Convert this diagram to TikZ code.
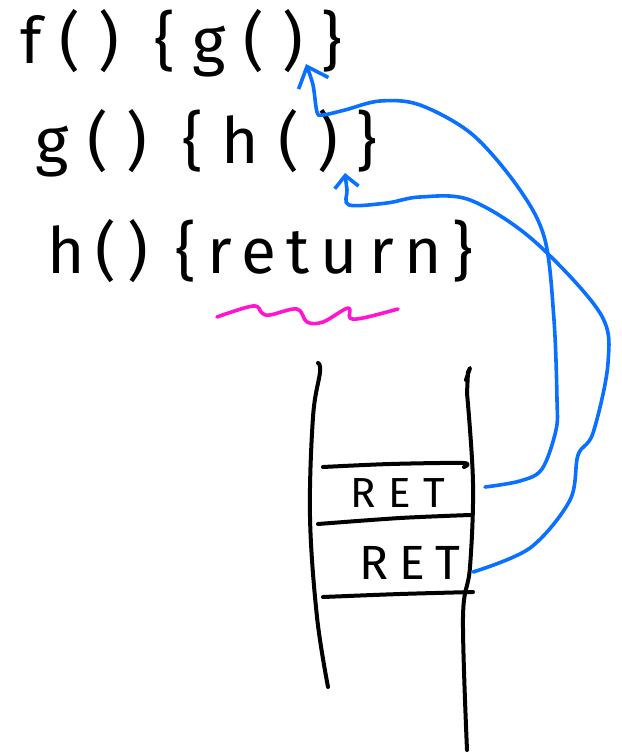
\documentclass[tikz,border=0pt]{standalone}
\usepackage{fontspec}
\setmainfont{Fira Sans}
\usetikzlibrary{arrows.meta}
\definecolor{penblue}{RGB}{10,112,255}
\definecolor{penpink}{RGB}{255,20,210}
\tikzset{
  ink/.style={line width=2pt, line cap=round, line join=round, black},
  link/.style={line width=1.8pt, line cap=round, line join=round, penblue},
  codeline/.style={anchor=base west, inner sep=0pt, font=\fontsize{32}{36}\selectfont},
  retlabel/.style={inner sep=0pt, font=\fontsize{21}{24}\selectfont},
}
\begin{document}
\begin{tikzpicture}[x=0.5pt, y=-0.5pt]
\useasboundingbox (0,0) rectangle (621,754);

% code lines
\node[codeline] (fline) at (20,64) {\addfontfeature{LetterSpace=28}f() \{g()\}};
\node[codeline] (gline) at (35,164) {\addfontfeature{LetterSpace=29}g() \{h()\}};
\node[codeline] (hline) at (47,273) {\addfontfeature{LetterSpace=17}h() \{return\}};

% pink squiggle under return
\draw[line width=1.8pt, line cap=round, line join=round, penpink]
  plot[smooth, tension=0.6] coordinates {(217,317) (253,306) (262,313) (270,315) (297,309) (307,322) (323,322) (348,308) (350,318) (363,318) (398,309)};

% stack walls
\draw[ink] plot[smooth, tension=0.6] coordinates {(318,363) (320,372) (313,417) (310,517) (317,617) (328,687)};
\draw[ink] plot[smooth, tension=0.6] coordinates {(467,393) (473,483) (470,567) (463,617) (467,750)};
\draw[ink] (467,393) -- (468,372) -- (470,368) -- (466,380);
% slot separators
\draw[ink] plot[smooth, tension=0.5] coordinates {(323,467) (390,464) (463,463) (464,467)};
\draw[ink] plot[smooth, tension=0.5] coordinates {(318,524) (400,518) (470,515)};
\draw[ink] plot[smooth, tension=0.5] coordinates {(323,597) (400,594) (473,592)};

% RET labels
\node[retlabel] (ret1) at (398,493) {\addfontfeature{LetterSpace=30}RET};
\node[retlabel, font=\fontsize{24}{27}\selectfont] (ret2) at (410,563) {\addfontfeature{LetterSpace=22}RET};

% arrow endpoints
\coordinate (s1) at (485,487);
\coordinate (t1) at (306,64);
\coordinate (s2) at (473,572);
\coordinate (t2) at (345,173);

% return-address arrows
\draw[link, -{Straight Barb[length=9pt, width=16pt, line width=1.8pt]}]
  plot[smooth, tension=0.55] coordinates {(s1) (520,481) (542,469) (556,430) (557,400) (554,320) (545,240) (520,190) (473,135) (420,105) (380,101) (345,110) (323,115) (317,112) (313,85) (t1)};
\draw[link, -{Straight Barb[length=6pt, width=12pt, line width=1.8pt]}]
  plot[smooth, tension=0.55] coordinates {(s2) (530,548) (570,500) (578,455) (593,433) (608,363) (600,313) (533,240) (470,200) (420,197) (387,203) (349,205) (347,190) (t2)};
\end{tikzpicture}
\end{document}
